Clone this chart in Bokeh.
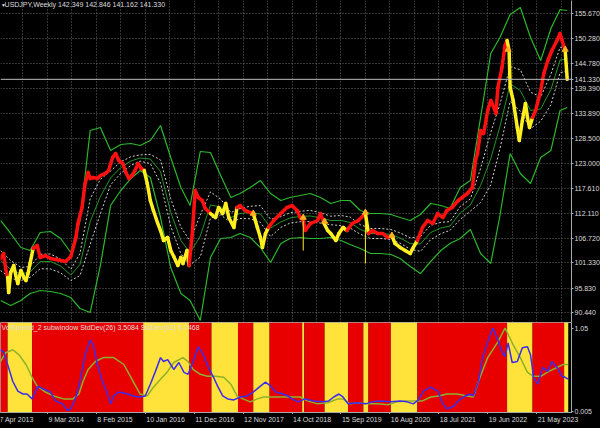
import bisect
from bokeh.plotting import figure
from bokeh.models import Range1d, FixedTicker, Label, Span, Grid
from bokeh.layouts import column
from bokeh.embed import file_html
from bokeh.resources import INLINE
from bokeh.core.properties import value

# ---------------- data (x = weeks since 7 Apr 2013) ----------------
date_tick_weeks = [0, 48, 96, 144, 192, 240, 288, 336, 384, 432, 480, 528]
date_tick_labels = ["7 Apr 2013", "9 Mar 2014", "8 Feb 2015", "10 Jan 2016", "11 Dec 2016",
                    "12 Nov 2017", "14 Oct 2018", "15 Sep 2019", "16 Aug 2020", "18 Jul 2021",
                    "19 Jun 2022", "21 May 2023"]
grid_weeks = [0, 24, 48, 72, 96, 120, 144, 168, 192, 216, 240, 264, 288, 312, 336, 360,
              384, 408, 432, 456, 480, 504, 528, 552]
price_ticks = [90.44, 95.83, 101.33, 106.72, 112.11, 117.61, 123.00, 128.50, 133.89,
               139.39, 144.78, 150.28, 155.67]
price_tick_labels = ["90.440", "95.830", "101.330", "106.720", "112.110", "117.610", "123.000",
                     "128.500", "133.890", "139.390", "144.780", "150.280", "155.670"]

regime_start = [2, 9, 33, 142, 187, 209, 235, 250, 266, 298, 300, 320, 343, 358, 363, 385,
                411, 499, 524, 555]
regime_up = [1, 0, 1, 0, 1, 0, 1, 0, 1, 0, 1, 0, 1, 0, 1, 0, 1, 0, 1, 0]
last_week = 559

price_week = [2, 5, 7, 9, 10, 12, 15, 17, 19, 22, 25, 27, 29, 31, 34, 38, 41, 46, 51, 56, 61, 66,
              71, 76, 78, 82, 85, 88, 90, 93, 97, 100, 105, 108, 112, 115, 118, 122, 125, 128,
              131, 134, 137, 140, 143, 146, 149, 152, 156, 159, 162, 166, 169, 172, 176, 179,
              181, 185, 187, 190, 193, 196, 200, 203, 208, 213, 216, 220, 223, 226, 231, 234,
              237, 242, 247, 250, 254, 257, 259, 262, 265, 270, 277, 283, 288, 293, 296, 299,
              301, 306, 313, 316, 319, 323, 326, 331, 334, 338, 342, 347, 353, 360, 363, 367,
              372, 377, 382, 386, 389, 394, 399, 404, 407, 411, 416, 421, 426, 431, 436, 440,
              445, 451, 455, 460, 465, 468, 470, 473, 476, 480, 483, 486, 488, 490, 494, 497,
              499, 501, 502, 505, 509, 511, 514, 517, 519, 521, 524, 527, 532, 535, 539, 543,
              548, 551, 553, 556, 558]
price_close = [102.30, 103.39, 100.12, 98.16, 94.89, 99.25, 100.78, 98.60, 96.85, 99.69, 98.16,
               97.51, 99.03, 101.21, 104.48, 105.13, 102.52, 102.95, 102.30, 102.08, 101.87,
               101.65, 102.74, 106.87, 109.92, 113.41, 118.64, 121.03, 119.73, 119.94, 119.73,
               120.38, 120.82, 121.47, 124.30, 125.17, 123.65, 122.99, 121.03, 119.73, 120.38,
               121.47, 122.99, 121.90, 121.47, 118.64, 114.93, 112.76, 110.14, 108.40, 106.22,
               106.87, 104.04, 102.74, 100.78, 102.52, 101.21, 104.04, 100.78, 107.31, 117.11,
               115.59, 114.93, 113.19, 112.10, 111.23, 113.41, 112.10, 114.28, 111.23, 109.05,
               113.41, 113.84, 112.76, 112.32, 112.10, 109.05, 106.87, 104.70, 107.75, 109.05,
               110.58, 112.10, 113.41, 113.84, 112.76, 111.23, 110.58, 108.40, 109.92, 110.58,
               112.10, 110.14, 108.40, 107.75, 106.22, 107.75, 109.05, 108.40, 109.92, 110.58,
               112.10, 107.75, 108.40, 107.75, 107.75, 106.87, 107.31, 105.57, 104.70, 104.04,
               103.39, 104.70, 106.22, 109.05, 110.58, 109.92, 112.10, 111.23, 112.76, 113.41,
               114.93, 115.59, 116.46, 117.77, 123.65, 125.17, 130.18, 129.53, 134.54, 136.72,
               135.19, 133.89, 139.55, 143.91, 148.70, 149.79, 147.61, 139.55, 136.72, 130.84,
               128.00, 132.36, 136.06, 133.01, 130.84, 133.01, 134.54, 138.90, 142.60, 145.43,
               147.61, 149.79, 151.31, 149.79, 147.61, 141.33]

spike_week = [299, 360]
spike_high = [110.58, 112.10]
spike_low = [104.04, 101.21]

arrow_week = [250, 299, 320, 360, 386, 500, 556]
arrow_price = [112.10, 111.23, 110.36, 112.32, 107.31, 147.83, 147.83]

band_week = [2, 12, 22, 31, 41, 51, 61, 71, 80, 90, 100, 110, 120, 130, 139, 149, 159, 169, 179,
             188, 198, 208, 218, 228, 237, 247, 257, 267, 277, 286, 296, 306, 316, 326, 336,
             345, 355, 365, 375, 385, 394, 404, 414, 424, 434, 443, 453, 463, 473, 483, 492,
             502, 512, 522, 532, 542, 551, 558]
band_upper = [110.58, 107.75, 104.70, 104.04, 107.96, 108.18, 106.66, 103.61, 110.58, 130.18,
              130.84, 125.83, 127.13, 127.35, 126.91, 128.00, 131.27, 124.30, 117.77, 113.84,
              125.61, 125.39, 120.38, 115.59, 116.46, 117.77, 119.29, 116.46, 114.93, 115.59,
              116.02, 116.46, 115.59, 114.28, 114.93, 114.93, 112.76, 112.10, 112.10, 111.88,
              111.23, 110.58, 111.88, 114.28, 113.84, 113.19, 117.77, 119.29, 133.01, 146.95,
              150.44, 155.45, 156.98, 150.44, 145.43, 152.40, 156.54, 156.32]
band_lower = [93.15, 92.06, 93.15, 94.68, 95.33, 95.11, 94.68, 93.80, 91.41, 90.54,
              100.78, 113.84, 117.11, 119.73, 121.47, 119.94, 111.23, 100.34, 94.68, 93.15,
              88.79, 102.52, 106.66, 106.87, 107.75, 106.87, 104.70, 101.43, 105.57, 106.66,
              106.87, 106.66, 106.66, 106.87, 106.22, 105.35, 104.48, 103.39, 103.39, 103.17,
              102.30, 100.56, 99.03, 101.65, 104.04, 105.57, 106.66, 108.62, 103.39, 101.21,
              111.67, 125.17, 120.82, 118.64, 124.30, 125.83, 134.54, 135.19]
band_middle = [101.87, 99.91, 98.93, 99.36, 101.65, 101.65, 100.67, 98.71, 101.00, 110.36,
               115.81, 119.84, 122.12, 123.54, 124.19, 123.97, 121.25, 112.32, 106.23, 103.50,
               107.20, 113.96, 113.52, 111.23, 112.11, 112.32, 112.00, 108.95, 110.25, 111.13,
               111.45, 111.56, 111.13, 110.58, 110.58, 110.14, 108.62, 107.75, 107.75, 107.53,
               106.77, 105.57, 105.46, 107.97, 108.94, 109.38, 112.22, 113.96, 118.20, 124.08,
               131.06, 140.31, 138.90, 134.54, 134.87, 139.12, 145.54, 145.76]
inner_upper = [104.05, 101.87, 100.37, 100.53, 103.23, 103.28, 102.17, 99.94, 103.40, 115.32,
               119.57, 121.34, 123.37, 124.49, 124.87, 124.98, 123.76, 115.32, 109.12, 106.09,
               111.80, 116.82, 115.24, 112.32, 113.20, 113.68, 113.82, 110.83, 111.42, 112.25,
               112.59, 112.79, 112.25, 111.51, 111.67, 111.34, 109.66, 108.84, 108.84, 108.62,
               107.89, 106.82, 107.07, 109.55, 110.17, 110.33, 113.61, 115.29, 121.90, 129.80,
               135.91, 144.10, 143.42, 138.52, 137.51, 142.44, 148.29, 148.40]
inner_lower = [99.69, 97.95, 97.49, 98.19, 100.07, 100.02, 99.17, 97.48, 98.60, 105.40,
               112.05, 118.34, 120.87, 122.59, 123.51, 122.96, 118.74, 109.32, 103.34, 100.91,
               102.60, 111.10, 111.80, 110.14, 111.02, 110.96, 110.18, 107.07, 109.08, 110.01,
               110.31, 110.33, 110.01, 109.65, 109.49, 108.94, 107.58, 106.66, 106.66, 106.44,
               105.65, 104.32, 103.85, 106.39, 107.71, 108.43, 110.83, 112.63, 114.50, 118.36,
               126.21, 136.52, 134.38, 130.56, 132.23, 135.80, 142.79, 143.12]

std26_week = [2, 5, 9, 14, 19, 24, 28, 33, 36, 39, 44, 51, 56, 63, 68, 71, 76, 80, 85, 90,
              93, 97, 102, 107, 110, 113, 118, 127, 132, 139, 144, 149, 154, 159, 162, 166, 169,
              172, 177, 182, 186, 191, 196, 201, 206, 211, 215, 220, 225, 231, 237, 244, 250,
              257, 262, 267, 272, 279, 284, 288, 294, 301, 309, 318, 324, 329, 334, 338, 343,
              352, 360, 367, 375, 385, 394, 401, 407, 412, 417, 424, 431, 436, 440, 446, 451,
              458, 463, 466, 471, 475, 480, 485, 490, 494, 497, 500, 504, 509, 514, 519, 522,
              525, 529, 534, 539, 543, 548, 553, 556, 559]
std26 = [0.779, 0.755, 0.595, 0.386, 0.263, 0.226, 0.226, 0.165, 0.251, 0.325,
         0.288, 0.251, 0.140, 0.103, 0.017, 0.042, 0.189, 0.386, 0.718, 0.902,
         0.841, 0.595, 0.386, 0.226, 0.103, 0.202, 0.251, 0.226, 0.202, 0.189,
         0.202, 0.349, 0.509, 0.681, 0.632, 0.656, 0.595, 0.533, 0.620, 0.497,
         0.472, 0.632, 0.816, 0.718, 0.558, 0.435, 0.325, 0.202, 0.165, 0.152,
         0.189, 0.202, 0.251, 0.325, 0.374, 0.325, 0.251, 0.226, 0.202, 0.165,
         0.128, 0.165, 0.140, 0.128, 0.140, 0.189, 0.226, 0.189, 0.103, 0.116,
         0.103, 0.128, 0.140, 0.128, 0.140, 0.128, 0.103, 0.152, 0.263, 0.312,
         0.263, 0.103, 0.042, 0.066, 0.140, 0.202, 0.226, 0.202, 0.386, 0.681,
         0.878, 1.050, 0.902, 0.755, 0.693, 0.865, 0.620, 0.632, 0.804, 0.816,
         0.718, 0.435, 0.349, 0.558, 0.509, 0.632, 0.558, 0.447, 0.435, 0.411]
std52_week = [2, 7, 14, 20, 27, 33, 38, 46, 54, 64, 73, 79, 83, 88, 95, 103, 113, 123, 132, 139,
              146, 152, 159, 166, 172, 181, 186, 191, 198, 205, 213, 221, 228, 234, 240, 247,
              254, 260, 270, 280, 289, 296, 303, 313, 323, 333, 338, 345, 353, 362, 372, 382,
              391, 401, 409, 416, 424, 432, 440, 450, 460, 466, 471, 480, 490, 497, 505, 512,
              519, 525, 532, 540, 548, 554, 559]
std52 = [0.632, 0.742, 0.779, 0.718, 0.595, 0.435, 0.325, 0.251, 0.202, 0.165,
         0.165, 0.226, 0.386, 0.533, 0.632, 0.681, 0.681, 0.595, 0.386, 0.226,
         0.202, 0.312, 0.411, 0.509, 0.620, 0.681, 0.632, 0.533, 0.472, 0.447,
         0.447, 0.435, 0.349, 0.202, 0.165, 0.128, 0.165, 0.189, 0.189, 0.189,
         0.189, 0.189, 0.140, 0.103, 0.116, 0.165, 0.165, 0.103, 0.116, 0.103,
         0.103, 0.091, 0.128, 0.140, 0.140, 0.140, 0.189, 0.202, 0.226, 0.226,
         0.202, 0.189, 0.386, 0.681, 0.878, 1.050, 0.841, 0.681, 0.497, 0.447,
         0.447, 0.509, 0.558, 0.595, 0.595]
sub_ticks = [0.005, 1.05]
sub_tick_labels = ["0.005", "1.05"]
header_text = "USDJPY,Weekly 142.349 142.846 141.162 141.330"
sub_title = "VolSpread_2 subwindow StdDev(26) 3.5084 StdDev(52) 6.7468"
last_price = 141.33
last_price_label = "141.330"

# ---------------- style ----------------
FONT = "Liberation Sans"
BG = "#000000"
TXT = "#dcdcdc"
AXC = "#a8a8a8"
GRIDC = "#8a8a8a"
RED = "#ff1010"
YEL = "#ffee20"
BLK_RED = "#e80000"
BLK_YEL = "#ffe23a"
GREEN = "#2cb82c"
X0, X1 = 2, 562.2
FRAME_W = 571


def regime_at(w):
    i = bisect.bisect_right(regime_start, w) - 1
    return regime_up[max(i, 0)]


def style_axis(a):
    a.major_label_text_font = FONT
    a.major_label_text_font_size = "7px"
    a.major_label_text_color = TXT
    a.axis_line_color = AXC
    a.major_tick_line_color = AXC
    a.major_tick_out = 2
    a.major_tick_in = 0
    a.minor_tick_line_color = None
    a.major_label_standoff = 1


# ---------------- main window ----------------
p1 = figure(frame_width=FRAME_W, frame_height=322, x_range=Range1d(X0, X1),
            y_range=Range1d(88.36, 158.50), output_backend="svg", toolbar_location=None,
            y_axis_location="right", x_axis_location=None,
            background_fill_color=BG, border_fill_color=BG, outline_line_color=None,
            min_border_left=0, min_border_top=0, min_border_bottom=0, min_border_right=0)
p1.grid.grid_line_color = None

for dim, ticks in ((0, grid_weeks), (1, price_ticks)):
    p1.add_layout(Grid(dimension=dim, ticker=FixedTicker(ticks=ticks), grid_line_color=GRIDC,
                       grid_line_dash="1 2", grid_line_alpha=0.75, level="underlay"))

ay = p1.yaxis[0]
ay.ticker = FixedTicker(ticks=price_ticks + [last_price])
overrides = {t: s for t, s in zip(price_ticks, price_tick_labels)}
overrides[last_price] = last_price_label
ay.major_label_overrides = overrides
style_axis(ay)

# bands
p1.line(band_week, band_upper, line_color=GREEN, line_width=1.2)
p1.line(band_week, band_lower, line_color=GREEN, line_width=1.2)
p1.line(band_week, band_middle, line_color=GREEN, line_width=1.0, line_alpha=0.8)
p1.line(band_week, inner_upper, line_color="#d0d0d0", line_width=1, line_dash="2 2")
p1.line(band_week, inner_lower, line_color="#d0d0d0", line_width=1, line_dash="2 2")

# current price line
p1.add_layout(Span(location=last_price, dimension="width", line_color="#bdbdbd", line_width=1))

# price path coloured by regime
x0s, y0s, x1s, y1s, cols = [], [], [], [], []
for i in range(len(price_week) - 1):
    x0s.append(price_week[i]); y0s.append(price_close[i])
    x1s.append(price_week[i + 1]); y1s.append(price_close[i + 1])
    mid = 0.5 * (price_week[i] + price_week[i + 1])
    cols.append(RED if regime_at(mid) else YEL)
p1.segment(x0s, y0s, x1s, y1s, line_color=cols, line_width=3.5, line_cap="round")
p1.segment(spike_week, spike_high, spike_week, spike_low, line_color=YEL, line_width=1)
p1.scatter(arrow_week, arrow_price, marker="triangle", size=6, fill_color="#ffb020",
           line_color="#ffb020")

p1.add_layout(Label(x=X0 + 4, y=158.35, text=header_text, text_font=FONT, text_font_size="7px",
                    text_color=TXT, text_baseline="top"))
p1.add_layout(Label(x=X0 + 0.5, y=158.2, text="\u25bc", text_font=FONT, text_font_size="5px",
                    text_color=TXT, text_baseline="top"))

# ---------------- sub window ----------------
p2 = figure(frame_width=FRAME_W, frame_height=90, x_range=p1.x_range,
            y_range=Range1d(-0.005, 1.12), output_backend="svg", toolbar_location=None,
            y_axis_location="right", background_fill_color=BG, border_fill_color=BG,
            outline_line_color=AXC, min_border_left=0, min_border_top=0, min_border_bottom=0,
            min_border_right=0)
p2.grid.grid_line_color = None

rs = regime_start
re_ = regime_start[1:] + [last_week]
p2.quad(left=rs, right=re_, bottom=-0.005, top=1.12,
        fill_color=[BLK_RED if u else BLK_YEL for u in regime_up], line_color=None)
p2.line(std52_week, std52, line_color="#8db12a", line_width=1.5)
p2.line(std26_week, std26, line_color="#3b2cf0", line_width=1.5)

ay2 = p2.yaxis[0]
ay2.ticker = FixedTicker(ticks=sub_ticks)
ay2.major_label_overrides = {t: s for t, s in zip(sub_ticks, sub_tick_labels)}
style_axis(ay2)

ax2 = p2.xaxis[0]
ax2.ticker = FixedTicker(ticks=date_tick_weeks)
ax2.major_label_overrides = {w: "" for w in date_tick_weeks}
style_axis(ax2)
ax2.major_label_text_font_size = "1px"

p2.add_layout(Label(x=X0 + 1, y=1.10, text=sub_title, text_font=FONT, text_font_size="7px",
                    text_color=TXT, text_baseline="top"))

# ---------------- date strip (same week scale, full window width) ----------------
strip_end = X0 + (X1 - X0) * 600 / FRAME_W
p3 = figure(frame_width=600, frame_height=14, x_range=Range1d(X0, strip_end),
            y_range=Range1d(0, 1), output_backend="svg", toolbar_location=None,
            x_axis_location=None, y_axis_location=None, background_fill_color=BG,
            border_fill_color=BG, outline_line_color=None, min_border_left=0,
            min_border_top=0, min_border_bottom=0, min_border_right=0)
p3.grid.grid_line_color = None
p3.text(x=date_tick_weeks, y=0.92, text=date_tick_labels, text_font=value(FONT),
        text_font_size="7px", text_color=TXT, text_baseline="top", text_align="left",
        x_offset=1)

p = column(p1, p2, p3, spacing=0, styles={"background-color": "#000000"})
open("out.html", "w").write(file_html(p, INLINE))
